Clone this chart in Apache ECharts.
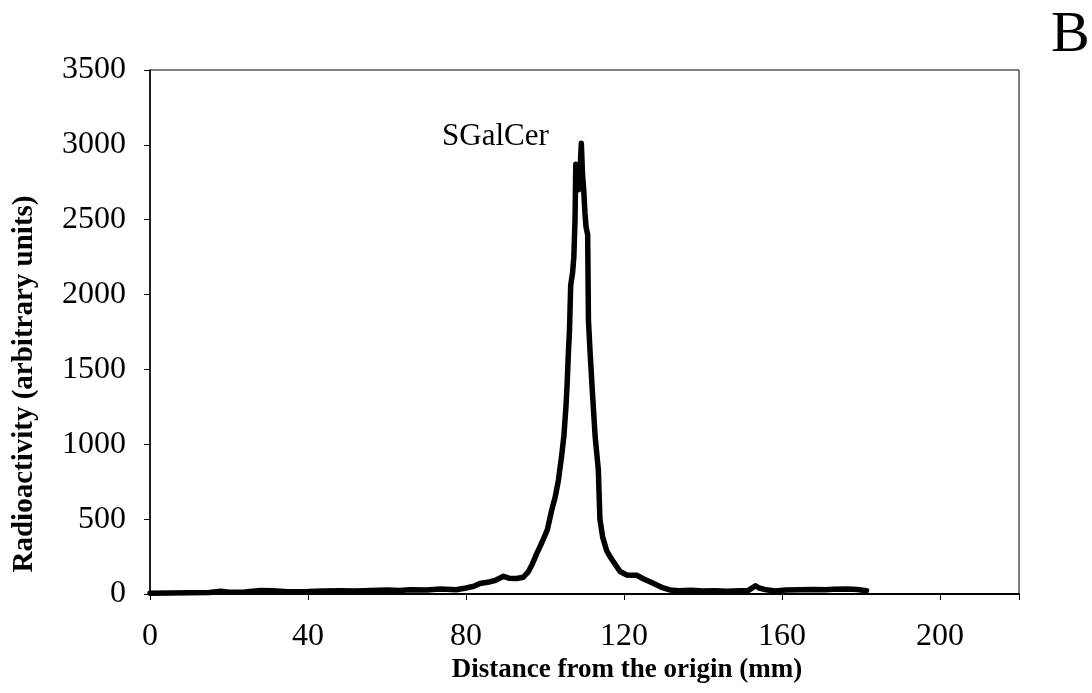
<!DOCTYPE html>
<html>
<head>
<meta charset="utf-8">
<script src="https://cdn.jsdelivr.net/npm/echarts@6/dist/echarts.min.js"></script>
<style>
html,body{margin:0;padding:0;background:#fff;}
#chart{width:1092px;height:693px;}
</style>
</head>
<body>
<div id="chart"></div>
<script>
var distance = [0, 5, 10, 15, 18, 20, 24, 28, 31, 35, 40, 44, 48, 52, 56, 60, 63, 66, 70, 73.5, 77.5,
  80, 82, 83.5, 85.5, 87.5, 89.5, 91, 92.8, 94.5, 95.8, 96.8, 97.9, 98.8, 99.8, 100.6, 101.7, 102.6,
  103.4, 104.2, 104.8, 105.3, 105.6, 105.9, 106.2, 106.5, 107.0, 107.3, 107.6, 107.8, 108.1, 108.5,
  108.9, 109.2, 109.5, 109.8, 110.1, 110.4, 110.8, 111.0, 111.4, 112.0, 112.7, 113.5, 113.9, 114.6,
  115.6, 116.7, 117.7, 119.0, 120.7, 122.0, 123.2, 125.0, 127.4, 129.5, 131.6, 134, 137, 140, 143,
  146, 149.5, 151.5, 153.3, 154.2, 156, 158.3, 161, 164.6, 168, 171, 173, 176.4, 179, 181.4];
var radioactivity = [5, 6, 8, 10, 18, 12, 14, 24, 22, 15, 16, 20, 22, 20, 24, 26, 24, 28, 27, 34, 28,
  40, 52, 70, 78, 92, 118, 105, 104, 112, 150, 200, 270, 320, 380, 430, 560, 650,
  760, 920, 1060, 1250, 1400, 1600, 1760, 2060, 2150, 2250, 2500, 2870, 2880, 2700,
  2850, 3010, 2800, 2700, 2550, 2450, 2400, 1830, 1620, 1350, 1050, 830, 500, 380,
  290, 240, 200, 150, 127, 125, 125, 100, 72, 45, 27, 22, 25, 20, 22,
  18, 22, 24, 55, 40, 28, 20, 26, 28, 30, 28, 32, 33, 30, 22];
var xTicks = [0, 40, 80, 120, 160, 200];
var yTicks = [0, 500, 1000, 1500, 2000, 2500, 3000, 3500];
var xTitle = 'Distance from the origin (mm)';
var yTitle = 'Radioactivity (arbitrary units)';
var peakLabel = 'SGalCer';
var panelLabel = 'B';

var pts = distance.map(function (d, i) { return [d, radioactivity[i]]; });
var serif = '"Liberation Serif", "Times New Roman", serif';

var chart = echarts.init(document.getElementById('chart'), null, {renderer: 'canvas'});
chart.setOption({
  backgroundColor: '#fff',
  animation: false,
  grid: {left: 150, right: 73, top: 70, bottom: 99, show: true, borderColor: '#000', borderWidth: 1},
  xAxis: {
    type: 'value', min: xTicks[0], max: 220, interval: 40,
    axisLine: {show: true, lineStyle: {color: '#000', width: 2}},
    axisTick: {show: true, inside: false, length: 6, lineStyle: {color: '#000', width: 1}},
    axisLabel: {color: '#000', fontFamily: serif, fontSize: 32, margin: 27,
      formatter: function (v) { return xTicks.indexOf(v) >= 0 ? String(v) : ''; }},
    splitLine: {show: false}
  },
  yAxis: {
    type: 'value', min: yTicks[0], max: yTicks[yTicks.length - 1], interval: 500,
    axisLine: {show: true, lineStyle: {color: '#000', width: 1.5}},
    axisTick: {show: true, inside: false, length: 6, lineStyle: {color: '#000', width: 1}},
    axisLabel: {color: '#000', fontFamily: serif, fontSize: 32, margin: 24, padding: [8, 0, 0, 0],
      formatter: function (v) { return String(v); }},
    splitLine: {show: false}
  },
  series: [{
    type: 'line', data: pts, symbol: 'none', smooth: false,
    lineStyle: {color: '#000', width: 5.5, join: 'round', cap: 'round'},
    z: 3
  }],
  graphic: [
    {type: 'text', left: 442, top: 121, style: {text: peakLabel, font: '31px ' + serif, fill: '#000'}},
    {type: 'text', left: 1051, top: 7, style: {text: panelLabel, font: '58px ' + serif, fill: '#000'}},
    {type: 'text', x: 627, y: 670, style: {text: xTitle, font: 'bold 27px ' + serif, fill: '#000', textAlign: 'center', textVerticalAlign: 'middle'}},
    {type: 'text', x: 25, y: 384, rotation: Math.PI / 2, style: {text: yTitle, font: 'bold 29px ' + serif, fill: '#000', textAlign: 'center', textVerticalAlign: 'middle'}}
  ]
});
</script>
</body>
</html>
